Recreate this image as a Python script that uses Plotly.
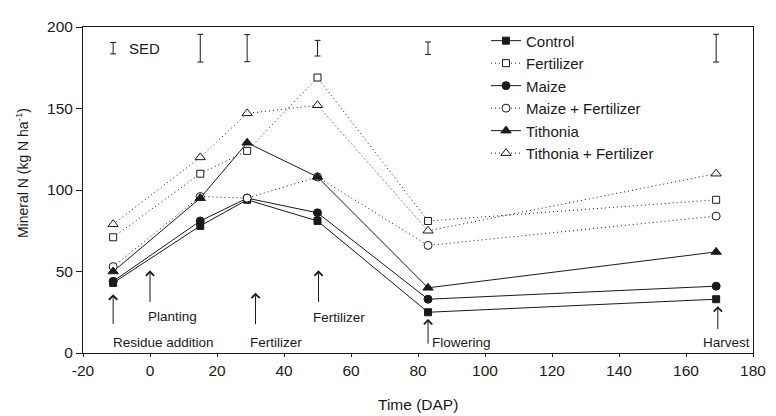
import plotly.graph_objects as go

dap = [-11, 15, 29, 50, 83, 169]
control = [43, 78, 94, 81, 25, 33]
fertilizer = [71, 110, 124, 169, 81, 94]
maize = [44, 81, 95, 86, 33, 41]
maize_fert = [53, 96, 95, 108, 66, 84]
tithonia = [50, 95, 129, 108, 40, 62]
tithonia_fert = [79, 120, 147, 152, 75, 110]

sed_center = [187, 187, 187, 187, 187, 187]
sed_half = [3.5, 8.5, 8.3, 4.8, 3.8, 8.5]

x_ticks = [-20, 0, 20, 40, 60, 80, 100, 120, 140, 160, 180]
x_tick_text = ["-20", "0", "20", "40", "60", "80", "100", "120", "140", "160", "180"]
y_ticks = [0, 50, 100, 150, 200]

events = [
    # label, arrow x, head y, tail y, label x, label y
    ("Residue addition", -11, 36, 17, 4, 6.6),
    ("Planting", 0, 50.7, 30.4, 6.8, 22.7),
    ("Fertilizer", 31.5, 37, 16.7, 37.5, 6.6),
    ("Fertilizer", 50.3, 50.7, 30.4, 56.5, 21.5),
    ("Flowering", 83, 20.9, 4.8, 93, 6.6),
    ("Harvest", 169.5, 28.7, 13.7, 172, 6.6),
]

INK = "#1a1a1a"
FONT = "Liberation Sans, Arial, sans-serif"
DOT = "1px,3px"

series = [
    ("Control", control, "square", INK, "solid", 7),
    ("Fertilizer", fertilizer, "square", "white", DOT, 7),
    ("Maize", maize, "circle", INK, "solid", 8),
    ("Maize + Fertilizer", maize_fert, "circle", "white", DOT, 8),
    ("Tithonia", tithonia, "triangle-up", INK, "solid", 9),
    ("Tithonia + Fertilizer", tithonia_fert, "triangle-up", "white", DOT, 9),
]

fig = go.Figure()

for name, vals, sym, fill, dash, size in series:
    fig.add_trace(go.Scatter(
        x=dap, y=vals, name=name, mode="lines+markers",
        line=dict(color=INK, width=1, dash=dash),
        marker=dict(symbol=sym, size=size, color=fill, line=dict(color=INK, width=1)),
    ))

fig.add_trace(go.Scatter(
    x=dap, y=sed_center, mode="markers", showlegend=False, hoverinfo="skip",
    marker=dict(size=1, color="rgba(0,0,0,0)"),
    error_y=dict(type="data", array=sed_half, symmetric=True, color=INK, thickness=1, width=3),
))

annotations = [
    dict(x=-6.8, y=187, xref="x", yref="y", text="SED", showarrow=False,
         xanchor="left", yanchor="middle", font=dict(size=15, color=INK, family=FONT)),
    dict(x=-0.091, y=0.552, xref="paper", yref="paper", textangle=-90,
         xanchor="center", yanchor="middle",
         text="Mineral N (kg N ha<sup>-1</sup>)", showarrow=False,
         font=dict(size=14, color=INK, family=FONT)),
    dict(x=0.5, y=-0.158, xref="paper", yref="paper", text="Time (DAP)",
         xanchor="center", yanchor="middle",
         showarrow=False, font=dict(size=15.5, color=INK, family=FONT)),
]
for label, ax_, hy, ty, lx, ly in events:
    annotations.append(dict(
        x=ax_, y=hy, ax=ax_, ay=ty, xref="x", yref="y", axref="x", ayref="y",
        text="", showarrow=True, arrowhead=4, arrowsize=1.6, arrowwidth=1, arrowcolor=INK,
    ))
    annotations.append(dict(
        x=lx, y=ly, xref="x", yref="y", text=label, showarrow=False,
        font=dict(size=13.5, color=INK, family=FONT),
    ))

# the page body adds an 8px offset, so the figure is sized to fit the window
fig.update_layout(
    width=768, height=408,
    margin=dict(l=75, r=23, t=10, b=63),
    paper_bgcolor="white", plot_bgcolor="white",
    font=dict(family=FONT, color=INK, size=15),
    showlegend=True,
    legend=dict(x=0.6015, y=1.008, xanchor="left", yanchor="top",
                bgcolor="rgba(0,0,0,0)", tracegroupgap=0,
                font=dict(size=15, color=INK, family=FONT)),
    annotations=annotations,
    xaxis=dict(range=[-20, 180], tickvals=x_ticks, ticktext=x_tick_text,
               showgrid=False, zeroline=False,
               showline=True, linecolor=INK, linewidth=1, mirror=True,
               ticks="outside", ticklen=3, tickcolor=INK,
               tickfont=dict(size=15.5, family=FONT, color=INK)),
    yaxis=dict(range=[0, 200], tickvals=y_ticks, showgrid=False, zeroline=False,
               showline=True, linecolor=INK, linewidth=1, mirror=True,
               ticks="outside", ticklen=6, tickcolor=INK,
               tickfont=dict(size=15.5, family=FONT, color=INK)),
)

fig.write_html("out.html")
